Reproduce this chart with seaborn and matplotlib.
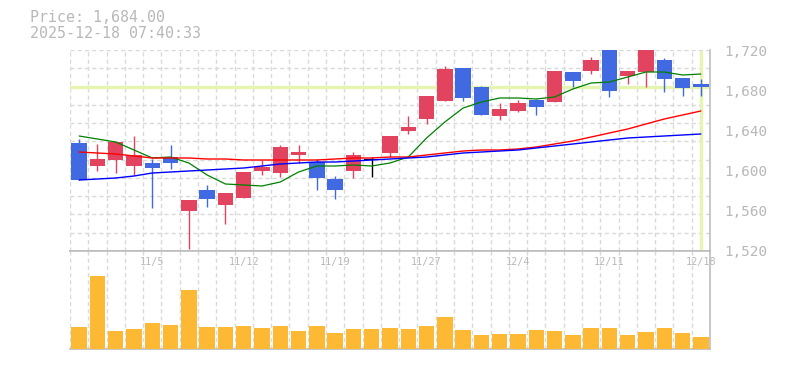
import numpy as np
import pandas as pd
import matplotlib
matplotlib.use('Agg')
import matplotlib.pyplot as plt
import seaborn as sns

# ---------------------------------------------------------------
# data (daily candles, 10/29 - 12/18)
# ---------------------------------------------------------------
opens  = [1628, 1605, 1611, 1605, 1608, 1614, 1560, 1581, 1566, 1573,
          1600, 1598, 1616, 1609, 1592, 1600, 1611, 1618, 1640, 1652,
          1670, 1703, 1684, 1655, 1660, 1671, 1669, 1699, 1700, 1722,
          1695, 1699, 1711, 1693, 1687]
highs  = [1632, 1627, 1629, 1635, 1612, 1626, 1571, 1586, 1578, 1599,
          1611, 1626, 1626, 1612, 1595, 1619, 1614, 1635, 1655, 1675,
          1705, 1703, 1685, 1668, 1671, 1672, 1700, 1699, 1714, 1722,
          1700, 1722, 1713, 1693, 1692]
lows   = [1591, 1600, 1598, 1596, 1563, 1602, 1522, 1564, 1547, 1573,
          1596, 1594, 1608, 1581, 1572, 1593, 1594, 1614, 1637, 1647,
          1670, 1670, 1656, 1651, 1659, 1656, 1669, 1684, 1697, 1674,
          1687, 1684, 1679, 1675, 1675]
closes = [1591, 1612, 1629, 1616, 1603, 1608, 1571, 1572, 1578, 1599,
          1604, 1624, 1619, 1593, 1581, 1616, 1611, 1635, 1644, 1675,
          1702, 1673, 1656, 1662, 1668, 1664, 1700, 1690, 1711, 1680,
          1700, 1722, 1692, 1683, 1684]

ma_short = [1635, 1632, 1629, 1621, 1613, 1614, 1608, 1596, 1587, 1586,
            1585, 1589, 1599, 1605, 1605, 1606, 1605, 1608, 1614, 1633,
            1649, 1663, 1669, 1673, 1673, 1672, 1674, 1682, 1688, 1689,
            1694, 1699, 1699, 1696, 1697]
ma_mid   = [1619, 1618, 1617, 1615, 1613, 1613, 1613, 1612, 1612, 1611,
            1611, 1611, 1611, 1611, 1612, 1613, 1613, 1614, 1614, 1616,
            1618, 1620, 1621, 1621, 1622, 1624, 1627, 1630, 1634, 1638,
            1642, 1647, 1652, 1656, 1660]
ma_long  = [1591, 1592, 1593, 1595, 1598, 1599, 1600, 1601, 1602, 1603,
            1605, 1607, 1608, 1609, 1609, 1610, 1611, 1612, 1613, 1614,
            1616, 1618, 1619, 1620, 1621, 1623, 1625, 1627, 1629, 1631,
            1633, 1634, 1635, 1636, 1637]

volumes = [21.6, 72.6, 17.6, 19.6, 25.6, 23.6, 58.6, 21.6, 21.6, 22.6,
           20.6, 22.6, 17.6, 22.6, 15.6, 19.6, 19.6, 20.6, 19.6, 22.6,
           31.6, 18.6, 13.6, 14.6, 14.6, 18.6, 17.6, 13.6, 20.6, 20.6,
           13.6, 16.6, 20.6, 15.6, 11.6]

date_labels = ['11/5', '11/12', '11/19', '11/27', '12/4', '12/11', '12/18']
date_pos = [4, 9, 14, 19, 24, 29, 34]
price_ticks = [1520, 1560, 1600, 1640, 1680, 1720]
last_price = 1684.00
stamp = '2025-12-18 07:40:33'

df = pd.DataFrame({'idx': np.arange(len(opens)), 'open': opens, 'high': highs,
                   'low': lows, 'close': closes, 'ma5': ma_short,
                   'ma25': ma_mid, 'ma75': ma_long, 'vol': volumes})

# ---------------------------------------------------------------
# figure layout (pixel based, 785 x 370)
# ---------------------------------------------------------------
sns.set_style('white')
plt.rcParams['font.family'] = ['DejaVu Sans Mono']

W, H = 785, 370
fig = plt.figure(figsize=(W / 100, H / 100), dpi=100)
ax = fig.add_axes([70 / W, (H - 251) / H, 640 / W, 201 / H])
ax_v = fig.add_axes([70 / W, (H - 349) / H, 640 / W, 98 / H])

UP, DOWN, FLAT = '#e2435f', '#4169e1', '#000000'
GRID = '#d9d9d9'
TXT = '#b8b8b8'
HILITE = '#e5f5b0'
DASH = (0, (3, 2.2))

x_lo, x_hi = -0.5, len(df) - 0.5
y_lo, y_hi = 1520, 1721

# highlight lines at current price / latest day
ax.axhline(last_price, color=HILITE, lw=2.4, zorder=1)
ax.axvline(df['idx'].iloc[-1], ymin=0.01, ymax=0.99, color=HILITE, lw=2.4, zorder=1)

# candles
colors = [UP if c > o else DOWN if c < o else FLAT for o, c in zip(df['open'], df['close'])]
ax.vlines(df['idx'], df['low'], df['high'], colors=colors, lw=1.0, zorder=3)
body = np.abs(df['close'] - df['open']).clip(lower=0.8)
ax.bar(df['idx'], body, bottom=np.minimum(df['open'], df['close']),
       width=0.84, color=colors, zorder=4, linewidth=0)

# moving averages
sns.lineplot(data=df, x='idx', y='ma5', color='#008000', lw=0.9, ax=ax, zorder=5)
sns.lineplot(data=df, x='idx', y='ma25', color='#ff0000', lw=1.0, ax=ax, zorder=5)
sns.lineplot(data=df, x='idx', y='ma75', color='#0000ff', lw=1.0, ax=ax, zorder=5)

ax.set_xlim(x_lo, x_hi)
ax.set_ylim(y_lo, y_hi)
ax.set_xlabel('')
ax.set_ylabel('')

# grid: vertical at candle boundaries, horizontal in 11 equal steps
ax.set_xticks(np.arange(x_lo, x_hi + 0.01, 1.0), minor=True)
ax.set_yticks(np.linspace(y_lo, y_hi, 12), minor=True)
ax.grid(which='minor', color=GRID, ls=DASH, lw=1)
ax.set_xticks([])
ax.yaxis.tick_right()
ax.set_yticks(price_ticks)
ax.set_yticklabels([f'{v:,}' for v in price_ticks])
ax.tick_params(axis='y', which='both', length=0, pad=10, labelsize=10.3, labelcolor=TXT)
ax.tick_params(axis='x', which='minor', length=0)
ax.tick_params(axis='y', which='minor', length=0)
for side in ['top', 'left']:
    ax.spines[side].set_visible(False)
for side in ['right', 'bottom']:
    ax.spines[side].set_color('#bdbdbd')
    ax.spines[side].set_linewidth(1.2)

# volume
sns.barplot(data=df, x='idx', y='vol', color='#fdb933', saturation=1,
            width=0.84, ax=ax_v, zorder=3, linewidth=0)
ax_v.set_xlim(x_lo, x_hi)
ax_v.set_ylim(0, 98)
ax_v.set_xlabel('')
ax_v.set_ylabel('')
ax_v.set_xticks(np.arange(x_lo, x_hi + 0.01, 1.0), minor=True)
ax_v.grid(which='minor', axis='x', color=GRID, ls=DASH, lw=1)
ax_v.set_xticks([])
ax_v.set_yticks([])
ax_v.tick_params(which='both', length=0)
ax_v.spines['left'].set_visible(False)
for side in ['top', 'right', 'bottom']:
    ax_v.spines[side].set_color('#bdbdbd')
    ax_v.spines[side].set_linewidth(1.2)

for pos, lab in zip(date_pos, date_labels):
    ax_v.text(pos, 0.885, lab, transform=ax_v.get_xaxis_transform(),
              ha='center', va='center', fontsize=7.3, color=TXT, zorder=6)

# header text
fig.text(30 / W, 1 - 17 / H, f'Price: {last_price:,.2f}', fontsize=10.8,
         color=TXT, va='center', ha='left')
fig.text(30 / W, 1 - 33 / H, stamp, fontsize=10.8, color=TXT, va='center', ha='left')

fig.savefig('out.png', dpi=100)
